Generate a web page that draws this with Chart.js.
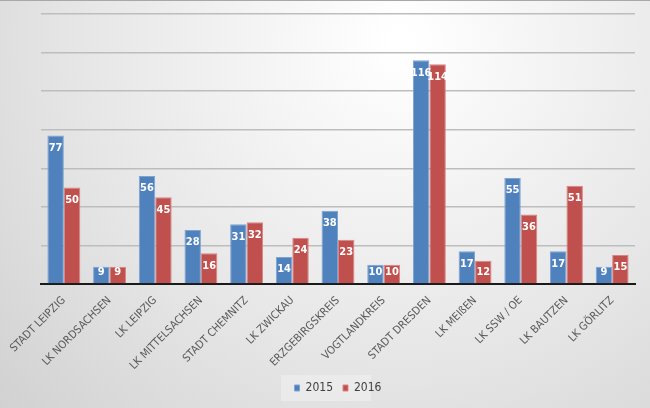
<!DOCTYPE html>
<html>
<head>
<meta charset="utf-8">
<script src="https://cdn.jsdelivr.net/npm/chart.js@4"></script>
<style>
  html, body { margin: 0; padding: 0; }
  #wrap { width: 650px; height: 408px; }
</style>
</head>
<body>
<div id="wrap"><canvas id="chart" width="650" height="408"></canvas></div>
<script>
// Kategorien und Werte
const regions = ['STADT LEIPZIG', 'LK NORDSACHSEN', 'LK LEIPZIG', 'LK MITTELSACHSEN', 'STADT CHEMNITZ',
  'LK ZWICKAU', 'ERZGEBIRGSKREIS', 'VOGTLANDKREIS', 'STADT DRESDEN', 'LK MEIßEN', 'LK SSW / OE',
  'LK BAUTZEN', 'LK GÖRLITZ'];
const values2015 = [77, 9, 56, 28, 31, 14, 38, 10, 116, 17, 55, 17, 9];
const values2016 = [50, 9, 45, 16, 32, 24, 23, 10, 114, 12, 36, 51, 15];

// background: light radial gradient like the Excel chart
const bgPlugin = {
  id: 'bg',
  beforeDraw(chart) {
    const ctx = chart.ctx;
    const w = chart.width, h = chart.height;
    ctx.save();
    const g = ctx.createRadialGradient(400, 40, 10, 400, 40, 620);
    g.addColorStop(0, '#ffffff');
    g.addColorStop(0.55, '#e4e4e4');
    g.addColorStop(1, '#cacaca');
    ctx.fillStyle = g;
    ctx.fillRect(0, 0, w, h);
    ctx.fillStyle = '#a8a8a8';
    ctx.fillRect(0, 0, w, 1);
    // legend panel
    const lg = chart.legend;
    if (lg) {
      ctx.fillStyle = 'rgba(240,240,240,0.6)';
      ctx.fillRect(281, lg.top + (lg.height - 26) / 2, 90, 26);
    }
    ctx.restore();
  }
};

// value labels inside the top of each bar
const valueLabels = {
  id: 'valueLabels',
  afterDatasetsDraw(chart) {
    const ctx = chart.ctx;
    const base = chart.scales.y.getPixelForValue(0);
    ctx.save();
    ctx.font = 'bold 11px "Liberation Sans Narrow", "DejaVu Sans Condensed", sans-serif';
    ctx.fillStyle = '#ffffff';
    ctx.textAlign = 'center';
    ctx.textBaseline = 'middle';
    chart.data.datasets.forEach((ds, i) => {
      chart.getDatasetMeta(i).data.forEach((bar, j) => {
        const y = Math.min(bar.y + 12.5, base - 12.3);
        ctx.fillText(ds.data[j], bar.x, y);
      });
    });
    ctx.restore();
  }
};

new Chart(document.querySelector('#chart'), {
  type: 'bar',
  data: {
    labels: regions,
    datasets: [{
      label: '2015',
      data: values2015,
      backgroundColor: '#4f81bd',
      borderColor: '#7ea3d2',
      borderWidth: 1,
      categoryPercentage: 0.72,
      barPercentage: 1
    }, {
      label: '2016',
      data: values2016,
      backgroundColor: '#c0504d',
      borderColor: '#d98583',
      borderWidth: 1,
      categoryPercentage: 0.72,
      barPercentage: 1
    }]
  },
  options: {
    responsive: false,
    animation: false,
    layout: { padding: { top: 14, left: 41, right: 15, bottom: 4 } },
    plugins: {
      tooltip: { enabled: false },
      legend: {
        position: 'bottom',
        labels: {
          boxWidth: 5,
          boxHeight: 6,
          padding: 10,
          color: '#404040',
          font: { size: 12, family: '"Liberation Sans Narrow", "DejaVu Sans Condensed", sans-serif' }
        }
      }
    },
    scales: {
      x: {
        grid: { display: false },
        border: { color: '#1a1a1a', width: 2 },
        ticks: {
          maxRotation: 45,
          minRotation: 45,
          autoSkip: false,
          padding: 2,
          color: '#595959',
          font: { size: 11, family: '"Liberation Sans Narrow", "DejaVu Sans Condensed", sans-serif' }
        },
        afterFit(scale) { scale.height = 88; }
      },
      y: {
        min: 0,
        max: 140,
        ticks: { display: false, stepSize: 20 },
        border: { display: false },
        grid: { color: '#bdbdbd', lineWidth: 1.5, drawTicks: false }
      }
    }
  },
  plugins: [bgPlugin, valueLabels]
});
</script>
</body>
</html>
